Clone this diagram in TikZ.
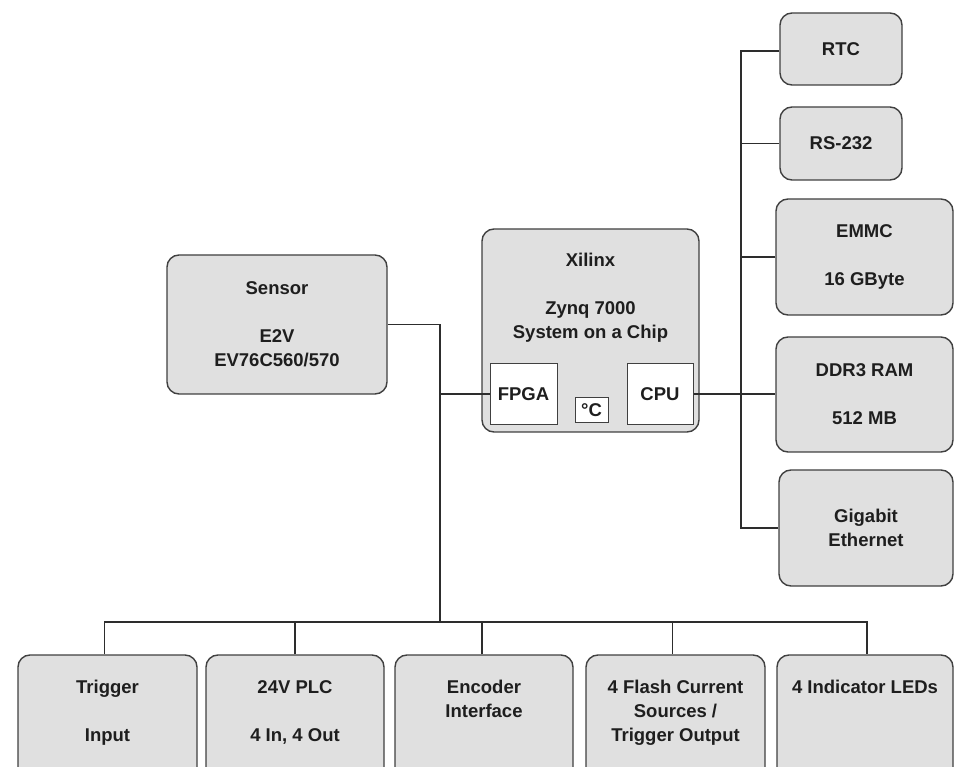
\documentclass[tikz,border=0pt]{standalone}
\usepackage{fontspec}
\setmainfont{Liberation Sans}
\definecolor{boxfill}{RGB}{224,224,224}
\definecolor{boxline}{RGB}{64,64,64}
\definecolor{wireline}{RGB}{45,45,45}
\definecolor{txt}{RGB}{30,30,30}
\begin{document}
\begin{tikzpicture}[x=1pt,y=-1pt,
  blk/.style={draw=boxline,fill=boxfill,line width=1.4pt,rounded corners=12pt,inner sep=0pt,
    font=\fontsize{18.5}{24}\selectfont\bfseries,text=txt,align=center},
  sub/.style={draw=boxline,fill=white,line width=1pt,inner sep=0pt,
    font=\fontsize{18.5}{24}\selectfont\bfseries,text=txt,align=center},
  lbl/.style={inner sep=0pt,font=\fontsize{18.5}{24}\selectfont\bfseries,text=txt,align=center},
  wire/.style={draw=wireline,line width=1.4pt}]
\useasboundingbox (0,0) rectangle (954,767);
\clip (0,0) rectangle (954,767);
% right column
\node[blk,minimum width=122,minimum height=72] (rtc) at (841,49) {RTC};
\node[blk,minimum width=122,minimum height=73] (rs) at (841,143.5) {RS-232};
\node[blk,minimum width=177,minimum height=116] (emmc) at (864.5,257) {EMMC\\[24pt]16 GByte};
\node[blk,minimum width=177,minimum height=115] (ddr) at (864.5,394.5) {DDR3 RAM\\[24pt]512 MB};
\node[blk,minimum width=174,minimum height=116] (gbe) at (866,528) {Gigabit\\Ethernet};
% sensor and SoC
\node[blk,minimum width=220,minimum height=139] (sensor) at (277,324.5) {};
\node[lbl] (sensort) at (277,324) {Sensor\\[24pt]E2V\\EV76C560/570};
\node[blk,minimum width=217,minimum height=203] (soc) at (590.5,330.5) {};
\node[lbl] (soct) at (590.5,298) {Xilinx\\[24pt]Zynq 7000\\System on a Chip};
\node[sub,minimum width=67,minimum height=61] (fpga) at (523.5,394) {FPGA};
\node[sub,minimum width=33,minimum height=25] (degc) at (591.5,410.5) {°C};
\node[sub,minimum width=66,minimum height=61] (cpu) at (660,394) {CPU};
% bottom row
\node[blk,minimum width=179,minimum height=140] (trig) at (107.5,725) {};
\node[blk,minimum width=178,minimum height=140] (plc) at (295,725) {};
\node[blk,minimum width=178,minimum height=140] (enc) at (484,725) {};
\node[blk,minimum width=179,minimum height=140] (flash) at (675.5,725) {};
\node[blk,minimum width=176,minimum height=140] (led) at (865,725) {};
\node[lbl,anchor=north] (trigt) at (107.5,680) {Trigger\\[24pt]Input};
\node[lbl,anchor=north] (plct) at (295,680) {24V PLC\\[24pt]4 In, 4 Out};
\node[lbl,anchor=north] (enct) at (484,680) {Encoder\\Interface};
\node[lbl,anchor=north] (flasht) at (675.5,680) {4 Flash Current\\Sources /\\Trigger Output};
\node[lbl,anchor=north] (ledt) at (865,680) {4 Indicator LEDs};
% connectors
\coordinate (bus) at (440,622);
\coordinate (trunk) at (741,0);
\draw[wire] (sensor.east) -| (bus);
\draw[wire] (fpga.west) -- (fpga.west -| bus);
\draw[wire] ([xshift=-3pt]trig.north) |- (bus) -| ([xshift=2pt]led.north);
\draw[wire] (plc.north) -- (plc.north |- bus);
\draw[wire] ([xshift=-2pt]enc.north) -- ([xshift=-2pt]enc.north |- bus);
\draw[wire] ([xshift=-3pt]flash.north) -- ([xshift=-3pt]flash.north |- bus);
\draw[wire] ([yshift=-2pt]rtc.west) -| (trunk |- gbe.west) -- (gbe.west);
\draw[wire] (rs.west) -- (rs.west -| trunk);
\draw[wire] (emmc.west) -- (emmc.west -| trunk);
\draw[wire] (cpu.east) -- (cpu.east -| ddr.west);
\end{tikzpicture}
\end{document}
